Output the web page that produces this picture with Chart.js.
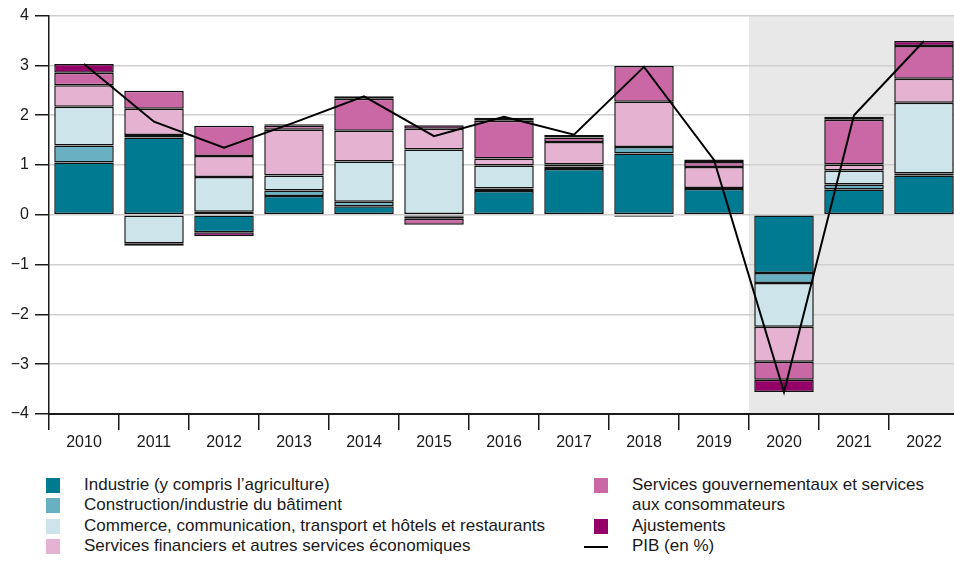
<!DOCTYPE html>
<html>
<head>
<meta charset="utf-8">
<script src="https://cdn.jsdelivr.net/npm/chart.js@4.4.0/dist/chart.umd.min.js"></script>
<style>
  html, body { margin: 0; padding: 0; background: #fff; }
  body { width: 954px; height: 561px; overflow: hidden; position: relative;
         font-family: "Liberation Sans", Arial, sans-serif; color: #1a1a1a; }
  #wrap { position: absolute; left: 0; top: 0; width: 960px; height: 462px; }
  .leg { position: absolute; font-size: 17px; line-height: 20.5px; white-space: nowrap; }
  .leg .sw { position: absolute; width: 14px; height: 15px; }
  .leg .ln { position: absolute; width: 24px; height: 2px; background: #000; }
</style>
</head>
<body>
<div id="wrap"><canvas id="chart" width="960" height="462"></canvas></div>
<div id="legend"></div>
<script>
let years = ["2010", "2011", "2012", "2013", "2014", "2015", "2016", "2017", "2018", "2019", "2020", "2021", "2022"];

let industrie = [1.05, 1.55, -0.35, 0.38, 0.17, -0.03, 0.48, 0.92, 1.23, 0.52, -1.17, 0.51, 0.79];
let construction = [0.34, 0.05, 0.06, 0.11, 0.09, -0.05, 0.05, 0.05, 0.13, 0.02, -0.2, 0.1, 0.04];
let commerce = [0.78, -0.57, 0.7, 0.3, 0.81, 1.31, 0.46, 0.04, null, null, -0.88, 0.28, 1.42];
let financiers = [0.43, 0.53, 0.42, 0.92, 0.62, 0.42, 0.14, 0.45, 0.91, 0.42, -0.7, 0.12, 0.48];
let gouvernement = [0.25, 0.36, 0.61, 0.08, 0.64, -0.12, 0.76, 0.09, 0.72, 0.1, -0.36, 0.9, 0.66];
let ajustements = [0.18, -0.05, -0.08, 0.03, 0.05, 0.07, 0.06, 0.05, -0.04, 0.05, -0.25, 0.06, 0.1];
let pib = [3.03, 1.87, 1.35, 1.85, 2.38, 1.58, 1.97, 1.61, 2.97, 1.1, -3.56, 2.0, 3.49];

let yTicks = [-4, -3, -2, -1, 0, 1, 2, 3, 4];
let shadeFrom = "2020";

let series = [
  { label: "Industrie (y compris l’agriculture)", data: industrie, color: "#007a91" },
  { label: "Construction/industrie du bâtiment", data: construction, color: "#68b0c2" },
  { label: "Commerce, communication, transport et hôtels et restaurants", data: commerce, color: "#cde4ea" },
  { label: "Services financiers et autres services économiques", data: financiers, color: "#e6b2d1" },
  { label: "Services gouvernementaux et services\naux consommateurs", data: gouvernement, color: "#ca67a5" },
  { label: "Ajustements", data: ajustements, color: "#940068" },
];
let pibLabel = "PIB (en %)";

// grey band behind the last years
const shadePlugin = {
  id: "shade",
  beforeDraw(chart) {
    let x = chart.scales.x;
    let area = chart.chartArea;
    let i = years.indexOf(shadeFrom);
    let left = (x.getPixelForValue(i - 1) + x.getPixelForValue(i)) / 2;
    let ctx = chart.ctx;
    ctx.save();
    ctx.fillStyle = "#e8e8e8";
    ctx.fillRect(left, area.top, area.right - left, area.bottom - area.top);
    ctx.restore();
  },
};

let datasets = series.map((s) => ({
  type: "bar",
  label: s.label,
  data: s.data,
  backgroundColor: s.color,
  borderColor: "#111",
  borderWidth: 1.5,
  borderSkipped: false,
  barPercentage: 0.85,
  categoryPercentage: 1,
  stack: "s",
  order: 2,
}));

datasets.push({
  type: "line",
  label: pibLabel,
  data: pib,
  borderColor: "#000",
  borderWidth: 2,
  pointRadius: 0,
  tension: 0,
  order: 1,
});

new Chart(document.getElementById("chart"), {
  data: { labels: years, datasets: datasets },
  options: {
    responsive: false,
    animation: false,
    layout: { padding: { top: 14, right: 1, left: 0, bottom: 0 } },
    plugins: { legend: { display: false }, tooltip: { enabled: false } },
    scales: {
      x: {
        stacked: true,
        grid: {
          offset: true,
          drawOnChartArea: false,
          tickLength: 16,
          tickColor: "#1a1a1a",
          lineWidth: 1.5,
        },
        border: { display: true, color: "#1a1a1a", width: 2 },
        ticks: {
          color: "#1a1a1a",
          padding: 3,
          font: { family: "Liberation Sans", size: 16 },
        },
        afterFit(scale) {
          scale.height = 48;
        },
      },
      y: {
        stacked: true,
        min: -4,
        max: 4,
        afterBuildTicks(scale) {
          scale.ticks = yTicks.map((v) => ({ value: v }));
        },
        grid: {
          color: (c) => (c.tick && c.tick.value === -4 ? "#1a1a1a" : "#cfcfcf"),
          lineWidth: 1.5,
          tickLength: 14,
          tickColor: "#1a1a1a",
        },
        border: { display: true, color: "#1a1a1a", width: 1.5 },
        ticks: {
          color: "#1a1a1a",
          padding: 6,
          font: { family: "Liberation Sans", size: 16 },
          callback: (v) => (v < 0 ? "\u2212" + Math.abs(v) : String(v)),
        },
        afterFit(scale) {
          scale.width = 49;
        },
      },
    },
  },
  plugins: [shadePlugin],
});

// legend in two columns, built from the series above
let legend = document.getElementById("legend");
let rows = [485, 505.5, 526, 546.5];
let slots = [
  { col: 0, row: 0 }, { col: 0, row: 1 }, { col: 0, row: 2 }, { col: 0, row: 3 },
  { col: 1, row: 0 }, { col: 1, row: 2 },
];
let cols = [{ sw: 46, txt: 84 }, { sw: 594, txt: 632 }];

series.forEach((s, i) => {
  let slot = slots[i];
  let c = cols[slot.col];
  let y = rows[slot.row];
  let sw = document.createElement("div");
  sw.className = "leg";
  sw.innerHTML = '<div class="sw"></div>';
  sw.style.left = c.sw + "px";
  sw.style.top = y - 7.5 + "px";
  sw.firstChild.style.background = s.color;
  legend.appendChild(sw);
  let t = document.createElement("div");
  t.className = "leg";
  t.style.left = c.txt + "px";
  t.style.top = y - 10.25 + "px";
  t.innerHTML = s.label.split("\n").join("<br>");
  legend.appendChild(t);
});

let ln = document.createElement("div");
ln.className = "leg";
ln.innerHTML = '<div class="ln"></div>';
ln.style.left = "584px";
ln.style.top = rows[3] - 1 + "px";
legend.appendChild(ln);
let lt = document.createElement("div");
lt.className = "leg";
lt.style.left = "632px";
lt.style.top = rows[3] - 10.25 + "px";
lt.textContent = pibLabel;
legend.appendChild(lt);
</script>
</body>
</html>
